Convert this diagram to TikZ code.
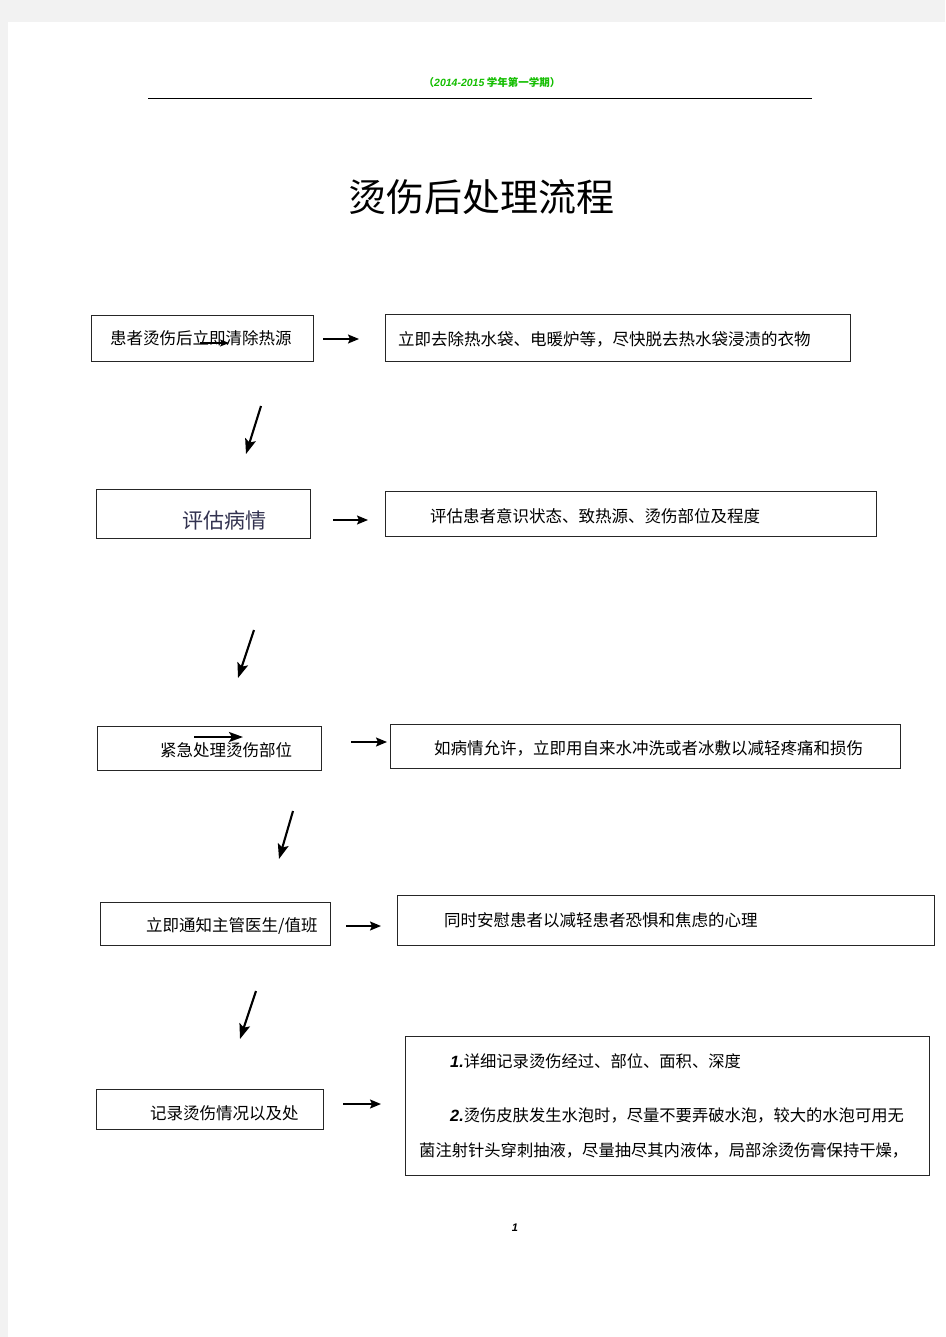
\documentclass[tikz,border=0pt]{standalone}
\usepackage{fontspec}
\usetikzlibrary{arrows.meta}
\newfontfamily\cjk{Noto Sans CJK SC}
\newfontfamily\latin{Liberation Sans}
\definecolor{headgreen}{RGB}{20,190,0}
\definecolor{pagegray}{RGB}{242,242,242}
\definecolor{evalblue}{RGB}{50,50,80}

\begin{document}
\begin{tikzpicture}[x=1pt,y=-1pt,>={Stealth[length=11pt,width=9pt,inset=2pt]},
    box/.style={draw=black!85,line width=0.9pt,inner sep=0pt,anchor=north west},
    txt/.style={anchor=west,inner sep=0pt,font=\cjk\fontsize{16.5}{18}\selectfont},
    harrow/.style={->,line width=1.6pt},
    darrow/.style={-{Stealth[length=15pt,width=11pt,inset=3pt]},line width=2.1pt}]
    % page
    \fill[pagegray] (0,0) rectangle (945,1337);
    \fill[white] (8,22) rectangle (945,1337);
    \useasboundingbox (0,0) rectangle (945,1337);

    % header
    \node[text=headgreen,inner sep=0pt] (head) at (492,83)
        {\cjk\bfseries\fontsize{10.5}{12}\selectfont （{\latin\bfseries\itshape 2014-2015} 学年第一学期）};
    \draw[line width=0.8pt] (148,98) -- (812,98);
    \node[inner sep=0pt,font=\cjk\fontsize{38}{40}\selectfont] (title) at (481,197) {烫伤后处理流程};

    % boxes
    \node[box,minimum width=222pt,minimum height=46pt] (l1) at (91,315) {};
    \node[box,minimum width=465pt,minimum height=47pt] (r1) at (385,314) {};
    \node[box,minimum width=214pt,minimum height=49pt] (l2) at (96,489) {};
    \node[box,minimum width=491pt,minimum height=45pt] (r2) at (385,491) {};
    \node[box,minimum width=224pt,minimum height=44pt] (l3) at (97,726) {};
    \node[box,minimum width=510pt,minimum height=44pt] (r3) at (390,724) {};
    \node[box,minimum width=230pt,minimum height=43pt] (l4) at (100,902) {};
    \node[box,minimum width=537pt,minimum height=50pt] (r4) at (397,895) {};
    \node[box,minimum width=227pt,minimum height=40pt] (l5) at (96,1089) {};
    \node[box,minimum width=524pt,minimum height=139pt] (r5) at (405,1036) {};

    % texts
    \node[txt] (t1) at (110,338) {患者烫伤后立即清除热源};
    \node[txt] (tr1) at (398,339) {立即去除热水袋、电暖炉等，尽快脱去热水袋浸渍的衣物};
    \node[txt,text=evalblue,font=\cjk\fontsize{21}{23}\selectfont] (t2) at (182,520) {评估病情};
    \node[txt] (tr2) at (430,516) {评估患者意识状态、致热源、烫伤部位及程度};
    \node[txt] (t3) at (160,750) {紧急处理烫伤部位};
    \node[txt] (tr3) at (434,748) {如病情允许，立即用自来水冲洗或者冰敷以减轻疼痛和损伤};
    \node[txt] (t4) at (146,926) {立即通知主管医生/值班};
    \node[txt] (tr4) at (444,920) {同时安慰患者以减轻患者恐惧和焦虑的心理};
    \node[txt] (t5) at (150,1113) {记录烫伤情况以及处};
    \node[txt,font=\cjk\fontsize{16.3}{18}\selectfont] (tr5a) at (450,1061)
        {{\latin\bfseries\itshape 1.}详细记录烫伤经过、部位、面积、深度};
    \node[txt,font=\cjk\fontsize{16.3}{18}\selectfont] (tr5b) at (450,1115)
        {{\latin\bfseries\itshape 2.}烫伤皮肤发生水泡时，尽量不要弄破水泡，较大的水泡可用无};
    \node[txt,font=\cjk\fontsize{16.3}{18}\selectfont] (tr5c) at (419,1150)
        {菌注射针头穿刺抽液，尽量抽尽其内液体，局部涂烫伤膏保持干燥，};

    \node[inner sep=0pt,font=\latin\bfseries\itshape\fontsize{11}{12}\selectfont] (pgno) at (515,1228) {1};

    % arrows between the columns
    \foreach \n/\xa/\xb/\y in {1/323/359/339,2/333/368/520,3/351/387/742,4/346/381/926,5/343/381/1104} {
        \coordinate (ha\n) at (\xa,\y);
        \coordinate (hb\n) at (\xb,\y);
        \draw[harrow] (ha\n) -- (hb\n);
    }

    % arrows down the left column
    \foreach \n/\xa/\ya/\xb/\yb in {1/261/406/246/454,2/254/630/238/678,3/293/811/279/859,4/256/991/240/1039} {
        \coordinate (da\n) at (\xa,\ya);
        \coordinate (db\n) at (\xb,\yb);
        \draw[darrow] (da\n) -- (db\n);
    }

    % stray arrows over the texts
    \coordinate (sa1) at (200,343);
    \coordinate (sb1) at (229,343);
    \draw[-{Stealth[length=9pt,width=7pt,inset=2pt]},line width=1.3pt] (sa1) -- (sb1);
    \coordinate (sa3) at (194,737);
    \coordinate (sb3) at (243,737);
    \draw[-{Stealth[length=14pt,width=10pt,inset=3pt]},line width=2.3pt] (sa3) -- (sb3);
\end{tikzpicture}
\end{document}
